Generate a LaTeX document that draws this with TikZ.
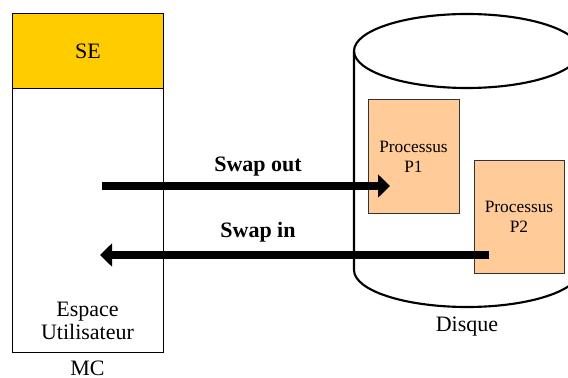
\documentclass[tikz,border=0pt]{standalone}
\usepackage{fontspec}
\setmainfont{Liberation Serif}
\usetikzlibrary{arrows.meta}
\definecolor{sefill}{HTML}{FFCC00}
\definecolor{procfill}{HTML}{FFCC99}
\tikzset{
  memtext/.style={font=\fontsize{16.5}{19}\selectfont, align=center},
  proctext/.style={font=\fontsize{13}{15}\selectfont, align=center},
  swaplabel/.style={font=\fontsize{16.5}{19}\selectfont\bfseries},
  membox/.style={draw=black, line width=0.75pt, inner sep=0pt},
  procbox/.style={draw=black!80, line width=0.75pt, fill=procfill, inner sep=0pt},
  swaparrow/.style={line width=6pt, -{Triangle[length=9pt,width=17pt]}},
  diskline/.style={line width=1.6pt}
}
\begin{document}
\begin{tikzpicture}[x=0.75pt, y=-0.75pt]
\useasboundingbox (0,0) rectangle (568,378);
% disk drawn as a cylinder, cut at the right edge
\begin{scope}
  \clip (0,0) rectangle (568,378);
  \draw[diskline] (354,51) -- (354,270)
     arc[start angle=180, end angle=0, x radius=113, y radius=37]
     -- (580,51);
  \draw[diskline] (467,51) ellipse[x radius=113, y radius=37];
\end{scope}
% main memory
\node[membox, minimum width=151*0.75pt, minimum height=339*0.75pt, anchor=north west] (mc) at (12,13) {};
\node[membox, fill=sefill, minimum width=151*0.75pt, minimum height=75*0.75pt, anchor=north west] (se) at (12,13) {};
\node[memtext] at (se.center) {SE};
\node[memtext] (user) at (87.5,321) {Espace\\[-2pt]Utilisateur};
\node[memtext, inner sep=0pt] (mclabel) at (87.5,368) {MC};
% processes on disk
\node[procbox, minimum width=91*0.75pt, minimum height=114*0.75pt, anchor=north west] (p1) at (368,99) {};
\node[proctext] at (413.5,157) {Processus\\P1};
\node[procbox, minimum width=90*0.75pt, minimum height=113*0.75pt, anchor=north west] (p2) at (474,160) {};
\node[proctext] at (519,217) {Processus\\P2};
\node[memtext] (disk) at (467,327) {Disque};
% swap transfers
\coordinate (outstart) at (102,186);
\coordinate (outend) at (p1.west |- 0,186);
\coordinate (inend) at (100,255);
\coordinate (instart) at (489,255);
\draw[swaparrow] (outstart) -- ([xshift=22*0.75pt]outend);
\draw[swaparrow] (instart) -- (inend);
\node[swaplabel] (swout) at (258,167) {Swap out};
\node[swaplabel] (swin) at (258,232) {Swap in};
\end{tikzpicture}
\end{document}
